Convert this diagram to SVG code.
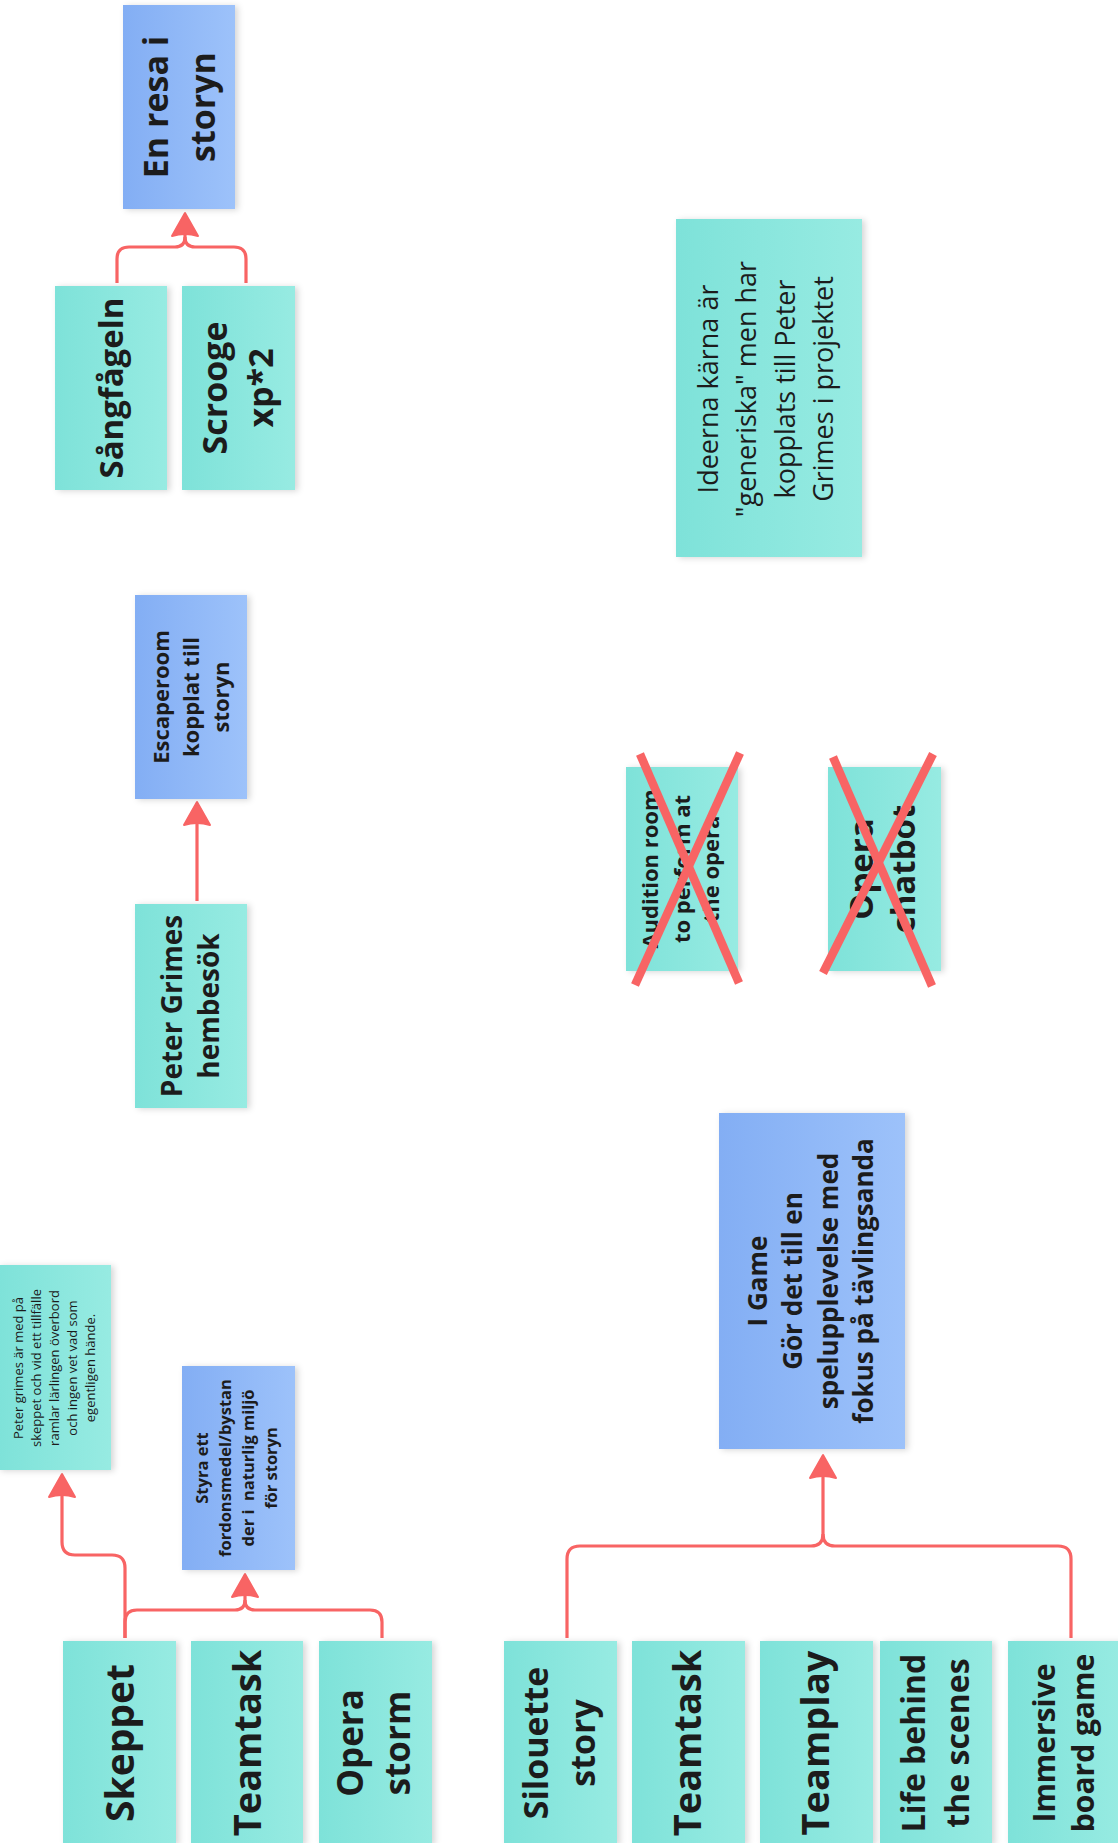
<svg xmlns="http://www.w3.org/2000/svg" width="1118" height="1843" viewBox="0 0 1118 1843">
  <defs>
    <linearGradient id="tealFill" x1="0" y1="0" x2="1" y2="0">
      <stop offset="0" stop-color="#7EE2D9"/>
      <stop offset="1" stop-color="#97EBE2"/>
    </linearGradient>
    <linearGradient id="blueFill" x1="0" y1="0" x2="1" y2="0">
      <stop offset="0" stop-color="#83AEF4"/>
      <stop offset="1" stop-color="#9DC2FA"/>
    </linearGradient>
    <filter id="noteShadow" x="-20%" y="-20%" width="140%" height="140%">
      <feDropShadow dx="3" dy="1" stdDeviation="3" flood-color="#000" flood-opacity="0.16"/>
    </filter>
    <marker id="arrowHead" markerUnits="userSpaceOnUse" markerWidth="30" markerHeight="30" refX="0" refY="0" orient="auto" overflow="visible">
      <path d="M22 0 L-1 -13 Q3 0 -1 13 Z" fill="#F86464" stroke="#F86464" stroke-width="2" stroke-linejoin="round"/>
    </marker>
    <style>
      .teal { fill: url(#tealFill); filter: url(#noteShadow); }
      .blue { fill: url(#blueFill); filter: url(#noteShadow); }
      text { font-family: "Open Sans", "Noto Sans", "Liberation Sans", sans-serif; fill: #1C1C1C; text-anchor: middle; }
      .b { font-weight: 700; }
      .sb { font-weight: 700; }
      .r { font-weight: 400; }
      .link { fill: none; stroke: #F86464; stroke-width: 3.2; stroke-linecap: butt; stroke-linejoin: round; }
      .strike { stroke: #F86464; stroke-width: 8.5; stroke-linecap: butt; }
    </style>
  </defs>

  <!-- connectors -->
  <g id="connectors">
    <path class="link" d="M117 283 V259 Q117 247 129 247 H175 Q185 247 185 237 V235" marker-end="url(#arrowHead)"/>
    <path class="link" d="M246 283 V259 Q246 247 234 247 H195 Q185 247 185 237"/>
    <path class="link" d="M197 901 V824" marker-end="url(#arrowHead)"/>
    <path class="link" d="M125 1638 V1568 Q125 1555 112 1555 H75 Q62 1555 62 1542 V1496" marker-end="url(#arrowHead)"/>
    <path class="link" d="M125 1638 V1622 Q125 1610 137 1610 H235 Q245 1610 245 1600 V1596" marker-end="url(#arrowHead)"/>
    <path class="link" d="M382 1638 V1622 Q382 1610 370 1610 H255 Q245 1610 245 1600"/>
    <path class="link" d="M567 1638 V1559 Q567 1546 580 1546 H811 Q823 1546 823 1534 V1477" marker-end="url(#arrowHead)"/>
    <path class="link" d="M1071 1638 V1559 Q1071 1546 1058 1546 H835 Q823 1546 823 1534"/>
  </g>

  <g id="en-resa">
    <rect class="blue" x="123" y="5" width="112" height="204"/>
    <text class="b" font-size="34" transform="translate(179 107) rotate(-90)"><tspan x="0" y="-11">En resa i</tspan><tspan x="0" y="36">storyn</tspan></text>
  </g>

  <g id="sangfageln">
    <rect class="teal" x="55" y="286" width="112" height="204"/>
    <text class="b" font-size="33" transform="translate(111 388) rotate(-90)"><tspan x="0" y="11.5">Sångfågeln</tspan></text>
  </g>

  <g id="scrooge">
    <rect class="teal" x="182" y="286" width="113" height="204"/>
    <text class="b" font-size="34" transform="translate(238.5 388) rotate(-90)"><tspan x="0" y="-11.5">Scrooge</tspan><tspan x="0" y="34.5">xp*2</tspan></text>
  </g>

  <g id="escaperoom">
    <rect class="blue" x="135" y="595" width="112" height="204"/>
    <text class="sb" font-size="22" transform="translate(191 697) rotate(-90)"><tspan x="0" y="-22">Escaperoom</tspan><tspan x="0" y="8">kopplat till</tspan><tspan x="0" y="38">storyn</tspan></text>
  </g>

  <g id="peter-grimes">
    <rect class="teal" x="135" y="904" width="112" height="204"/>
    <text class="b" font-size="28" transform="translate(191 1006) rotate(-90)"><tspan x="0" y="-9">Peter Grimes</tspan><tspan x="0" y="28">hembesök</tspan></text>
  </g>

  <g id="note-ideas">
    <rect class="teal" x="676" y="219" width="186" height="338"/>
    <text class="r" font-size="27" transform="translate(769 389) rotate(-90)"><tspan x="0" y="-51">Ideerna kärna är</tspan><tspan x="0" y="-13">"generiska" men har</tspan><tspan x="0" y="26">kopplats till Peter</tspan><tspan x="0" y="64">Grimes i projektet</tspan></text>
  </g>

  <g id="audition-room">
    <rect class="teal" x="626" y="767" width="112" height="204"/>
    <text class="sb" font-size="22" transform="translate(682 869) rotate(-90)"><tspan x="0" y="-24">Audition room</tspan><tspan x="0" y="7.5">to perform at</tspan><tspan x="0" y="37">the opera</tspan></text>
  </g>

  <g id="opera-chatbot">
    <rect class="teal" x="828" y="767" width="113" height="204"/>
    <text class="b" font-size="33" transform="translate(884.5 869) rotate(-90)"><tspan x="0" y="-11.5">Opera</tspan><tspan x="0" y="30.5">chatbot</tspan></text>
  </g>

  <g id="i-game">
    <rect class="blue" x="719" y="1113" width="186" height="336"/>
    <text class="sb" font-size="26" transform="translate(812 1281) rotate(-90)"><tspan x="0" y="-45">I Game</tspan><tspan x="0" y="-10">Gör det till en</tspan><tspan x="0" y="26">spelupplevelse med</tspan><tspan x="0" y="61">fokus på tävlingsanda</tspan></text>
  </g>

  <g id="note-skeppet">
    <rect class="teal" x="-2" y="1265" width="113" height="205"/>
    <text class="r" font-size="13" transform="translate(54.5 1368) rotate(-90)"><tspan x="0" y="-31.5">Peter grimes är med på</tspan><tspan x="0" y="-13.5">skeppet och vid ett tillfälle</tspan><tspan x="0" y="4.5">ramlar lärlingen överbord</tspan><tspan x="0" y="22.5">och ingen vet vad som</tspan><tspan x="0" y="40.5">egentligen hände.</tspan></text>
  </g>

  <g id="styra">
    <rect class="blue" x="182" y="1366" width="113" height="204"/>
    <text class="sb" font-size="16.5" transform="translate(238.5 1468) rotate(-90)"><tspan x="0" y="-30.5">Styra ett</tspan><tspan x="0" y="-7.5">fordonsmedel/bystan</tspan><tspan x="0" y="15.5" xml:space="preserve">der i  naturlig miljö</tspan><tspan x="0" y="38.5">för storyn</tspan></text>
  </g>

  <g id="skeppet">
    <rect class="teal" x="63" y="1641" width="113" height="204"/>
    <text class="b" font-size="39" transform="translate(119.5 1743) rotate(-90)"><tspan x="0" y="14">Skeppet</tspan></text>
  </g>

  <g id="teamtask-a">
    <rect class="teal" x="191" y="1641" width="112" height="204"/>
    <text class="b" font-size="38" transform="translate(247 1743) rotate(-90)"><tspan x="0" y="13.5">Teamtask</tspan></text>
  </g>

  <g id="opera-storm">
    <rect class="teal" x="319" y="1641" width="113" height="204"/>
    <text class="b" font-size="35" transform="translate(375.5 1743) rotate(-90)"><tspan x="0" y="-12.5">Opera</tspan><tspan x="0" y="34.5">storm</tspan></text>
  </g>

  <g id="silouette-story">
    <rect class="teal" x="504" y="1641" width="113" height="204"/>
    <text class="b" font-size="34" transform="translate(560.5 1743) rotate(-90)"><tspan x="0" y="-12.5">Silouette</tspan><tspan x="0" y="34.5">story</tspan></text>
  </g>

  <g id="teamtask-b">
    <rect class="teal" x="632" y="1641" width="113" height="204"/>
    <text class="b" font-size="38" transform="translate(688.5 1743) rotate(-90)"><tspan x="0" y="12.5">Teamtask</tspan></text>
  </g>

  <g id="teamplay">
    <rect class="teal" x="760" y="1641" width="113" height="204"/>
    <text class="b" font-size="38" transform="translate(816.5 1743) rotate(-90)"><tspan x="0" y="12.5">Teamplay</tspan></text>
  </g>

  <g id="life-behind">
    <rect class="teal" x="880" y="1641" width="112" height="204"/>
    <text class="sb" font-size="32" transform="translate(936 1743) rotate(-90)"><tspan x="0" y="-11">Life behind</tspan><tspan x="0" y="33">the scenes</tspan></text>
  </g>

  <g id="immersive">
    <rect class="teal" x="1008" y="1641" width="113" height="204"/>
    <text class="sb" font-size="30" transform="translate(1064.5 1743) rotate(-90)"><tspan x="0" y="-9.5">Immersive</tspan><tspan x="0" y="29.5">board game</tspan></text>
  </g>

  <!-- crossed-out ideas -->
  <g id="strike-marks">
    <line class="strike" x1="640" y1="754" x2="739" y2="983"/>
    <line class="strike" x1="740" y1="753" x2="635" y2="985"/>
    <line class="strike" x1="833" y1="757" x2="932" y2="986"/>
    <line class="strike" x1="933" y1="754" x2="823" y2="973"/>
  </g>
</svg>
